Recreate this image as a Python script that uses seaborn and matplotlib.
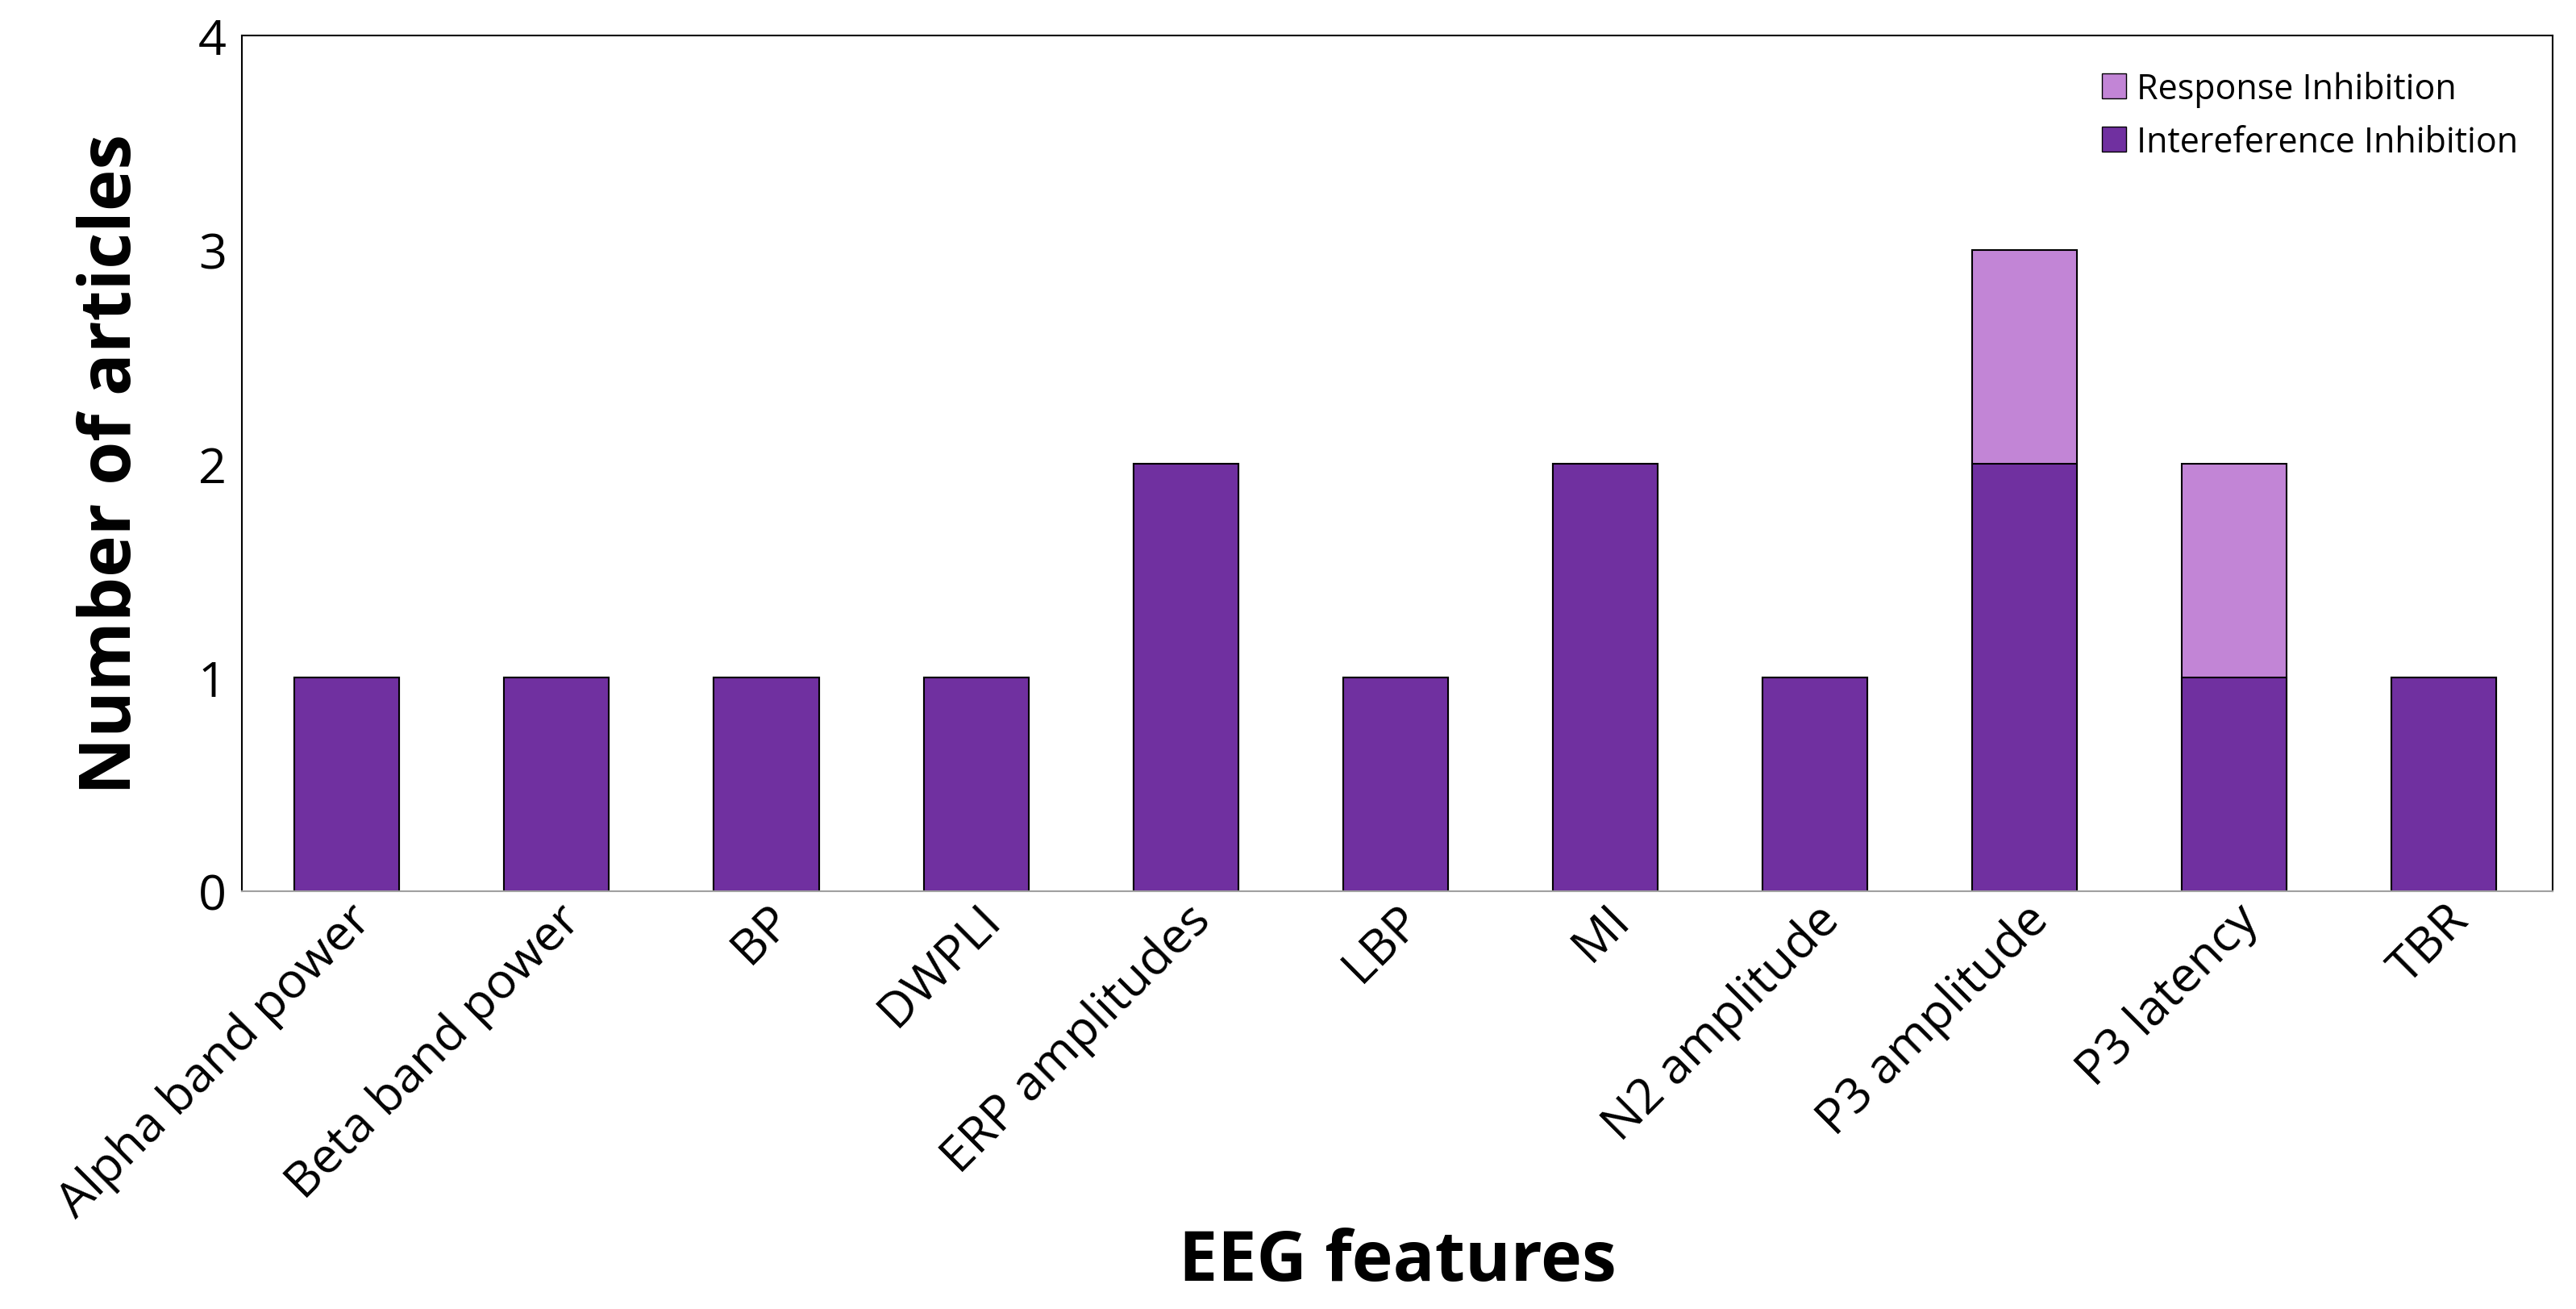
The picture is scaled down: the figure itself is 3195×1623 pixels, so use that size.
import numpy as np
import pandas as pd
import seaborn as sns
import matplotlib.pyplot as plt
from matplotlib.patches import Patch

features = ['Alpha band power', 'Beta band power', 'BP', 'DWPLI', 'ERP amplitudes',
            'LBP', 'MI', 'N2 amplitude', 'P3 amplitude', 'P3 latency', 'TBR']
interference = [1, 1, 1, 1, 2, 1, 2, 1, 2, 1, 1]
response = [0, 0, 0, 0, 0, 0, 0, 0, 1, 1, 0]

dark = '#7030A0'
light = '#C285D6'

sns.set_style('white')
plt.rcParams['font.family'] = ['Open Sans', 'DejaVu Sans']
plt.rcParams['text.color'] = 'black'
plt.rcParams['axes.labelcolor'] = 'black'
plt.rcParams['xtick.color'] = 'black'
plt.rcParams['ytick.color'] = 'black'

df = pd.DataFrame({'feature': features, 'inter': interference,
                   'total': np.array(interference) + np.array(response)})

fig = plt.figure(figsize=(31.95, 16.24), dpi=100)
ax = fig.add_axes([0.094, 0.319, 0.897, 0.653])

sns.barplot(data=df, x='feature', y='total', color=light, width=0.5,
            edgecolor='black', linewidth=1.5, saturation=1, ax=ax)
sns.barplot(data=df, x='feature', y='inter', color=dark, width=0.5,
            edgecolor='black', linewidth=1.5, saturation=1, ax=ax)

ax.set_ylim(0, 4)
ax.set_yticks([0, 1, 2, 3, 4])
ax.set_xlim(-0.5, len(features) - 0.48)
ax.tick_params(axis='both', labelsize=44, length=0)
ax.tick_params(axis='y', pad=14)
plt.setp(ax.get_xticklabels(), rotation=45, ha='right', rotation_mode='anchor')
ax.set_xlabel('EEG features', fontsize=62, fontweight='bold', labelpad=0)
ax.set_ylabel('Number of articles', fontsize=63, fontweight='bold', labelpad=45)
for s in ax.spines.values():
    s.set_color('black')
    s.set_linewidth(1.5)
ax.spines['bottom'].set_color('#A0A0A0')

handles = [Patch(facecolor=light, edgecolor='black', label='Response Inhibition'),
           Patch(facecolor=dark, edgecolor='black', label='Intereference Inhibition')]
ax.legend(handles=handles, loc='upper right', fontsize=31, frameon=False,
          handlelength=0.7, handleheight=0.7, handletextpad=0.3, labelspacing=0.5,
          borderaxespad=0.6)

fig.savefig('out.png', dpi=100)
